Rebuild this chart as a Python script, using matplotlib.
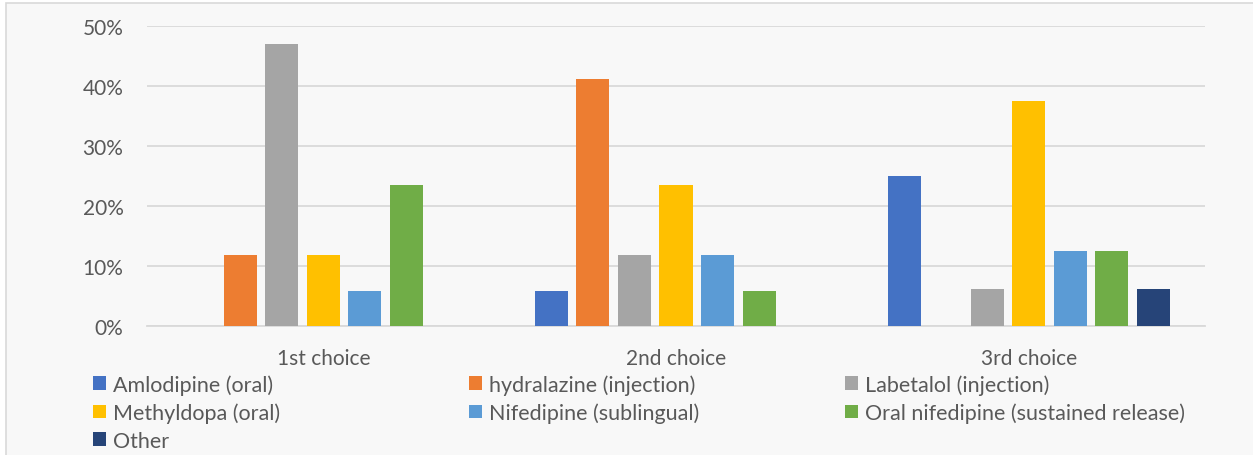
import numpy as np
import matplotlib.pyplot as plt
from matplotlib.patches import Rectangle, Patch

# survey shares by choice rank
choices = ["1st choice", "2nd choice", "3rd choice"]
drugs = ["Amlodipine (oral)", "hydralazine (injection)", "Labetalol (injection)",
         "Methyldopa (oral)", "Nifedipine (sublingual)",
         "Oral nifedipine (sustained release)", "Other"]
amlodipine = [0.0, 5.88, 25.0]
hydralazine = [11.76, 41.18, 0.0]
labetalol = [47.06, 11.76, 6.25]
methyldopa = [11.76, 23.53, 37.5]
nifedipine_sl = [5.88, 11.76, 12.5]
nifedipine_sr = [23.53, 5.88, 12.5]
other = [0.0, 0.0, 6.25]
series = [amlodipine, hydralazine, labetalol, methyldopa,
          nifedipine_sl, nifedipine_sr, other]
colours = ["#4472c4", "#ed7d31", "#a5a5a5", "#ffc000",
           "#5b9bd5", "#70ad47", "#264478"]

plt.rcParams['font.family'] = ['Lato', 'DejaVu Sans']
text_col = "#595959"
bg = "#f8f8f8"
fs = 15

fig = plt.figure(figsize=(12.53, 4.56), dpi=100, facecolor="white")
# chart area frame
fig.add_artist(Rectangle((6 / 1253, -0.01), 1.1, 1 - 4 / 456 + 0.01,
                         transform=fig.transFigure, facecolor=bg,
                         edgecolor="#d9d9d9", lw=1.2, zorder=-10))

ax = fig.add_axes([147 / 1253, 1 - 327 / 456, (1205 - 147) / 1253, 300 / 456])
ax.patch.set_alpha(0)

x = np.arange(len(choices))
step = 0.1177
width = 0.0936
for i, (vals, c) in enumerate(zip(series, colours)):
    ax.bar(x + (i - 3) * step, np.array(vals) / 100, width, color=c,
           label=drugs[i], zorder=3)

ax.set_xlim(-0.5, 2.5)
ax.set_ylim(0, 0.5)
ax.set_yticks(np.arange(0, 0.51, 0.1))
ax.set_yticklabels([f"{int(round(v * 100))}%" for v in np.arange(0, 0.51, 0.1)])
ax.set_xticks(x)
ax.set_xticklabels(choices)
ax.tick_params(axis='y', length=0, pad=17, labelsize=fs, labelcolor=text_col)
ax.tick_params(axis='x', length=0, pad=15.5, labelsize=fs, labelcolor=text_col)
ax.grid(axis='y', color="#d9d9d9", lw=1.3, zorder=0)
for s in ["top", "right", "left"]:
    ax.spines[s].set_visible(False)
ax.spines["bottom"].set_color("#d9d9d9")
ax.spines["bottom"].set_linewidth(1.3)

# legend laid out in three equal columns
columns = [[0, 3, 6], [1, 4], [2, 5]]
col_x = [93, 469, 845]
for cx, idx in zip(col_x, columns):
    handles = [Patch(facecolor=colours[k], label=drugs[k]) for k in idx]
    fig.legend(handles=handles, loc="upper left",
               bbox_to_anchor=(cx / 1253, 1 - 375 / 456),
               frameon=False, fontsize=15.5, labelcolor=text_col,
               handlelength=0.6, handleheight=0.6, handletextpad=0.35,
               labelspacing=0.36, borderpad=0, borderaxespad=0)

fig.savefig("out.png", dpi=100, facecolor="white")
